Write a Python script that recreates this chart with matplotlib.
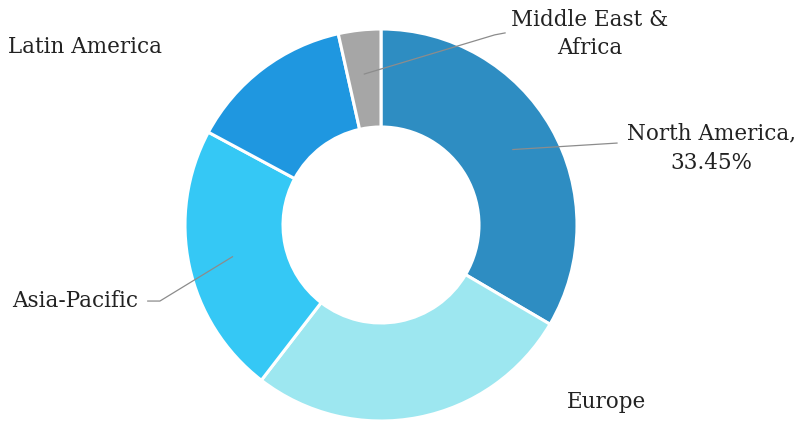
import numpy as np
import matplotlib
matplotlib.use("Agg")
import matplotlib.pyplot as plt

regions = ["North America", "Europe", "Asia-Pacific", "Latin America", "Middle East &\nAfrica"]
shares = [33.45, 27.0, 22.4, 13.65, 3.5]
colors = ["#2E8DC2", "#9DE7F0", "#35C8F5", "#1F97E0", "#A6A6A6"]

plt.rcParams["font.family"] = ["DejaVu Serif"]

fig = plt.figure(figsize=(8.08, 4.26), dpi=100)
ax = fig.add_axes([0, 0, 1, 1])
wedges, _ = ax.pie(
    shares,
    colors=colors,
    startangle=90,
    counterclock=False,
    radius=1.0,
    wedgeprops=dict(width=0.5, edgecolor="white", linewidth=2.2),
)
# scale: 196 px per unit, centre at (381, 201) px from bottom-left
ax.set_xlim(-381 / 196, (808 - 381) / 196)
ax.set_ylim(-201 / 196, 225 / 196)
ax.set_aspect("equal")
ax.axis("off")


def anchor(w, r=0.775):
    t = np.deg2rad((w.theta1 + w.theta2) / 2)
    return r * np.cos(t), r * np.sin(t)


txt = dict(fontsize=15.5, color="#222222")
line = dict(color="#8c8c8c", lw=0.9)

# North America
x0, y0 = anchor(wedges[0])
ax.plot([x0, 1.204], [y0, 0.418], **line)
ax.text(1.255, 0.469, "North America,", ha="left", va="center", **txt)
ax.text(1.687, 0.316, "{:.2f}%".format(shares[0]), ha="center", va="center", **txt)

# Europe
ax.text(1.153, -0.903, regions[1], ha="center", va="center", **txt)

# Asia-Pacific
x0, y0 = anchor(wedges[2])
ax.plot([x0, -1.128, -1.19], [y0, -0.388, -0.388], **line)
ax.text(-1.24, -0.388, regions[2], ha="right", va="center", **txt)

# Latin America
ax.text(-1.51, 0.908, regions[3], ha="center", va="center", **txt)

# Middle East & Africa
x0, y0 = anchor(wedges[4])
ax.plot([x0, 0.58, 0.633], [y0, 0.97, 0.98], **line)
ax.text(1.066, 0.974, regions[4], ha="center", va="center", linespacing=1.35, **txt)

fig.savefig("out.png", dpi=100)
